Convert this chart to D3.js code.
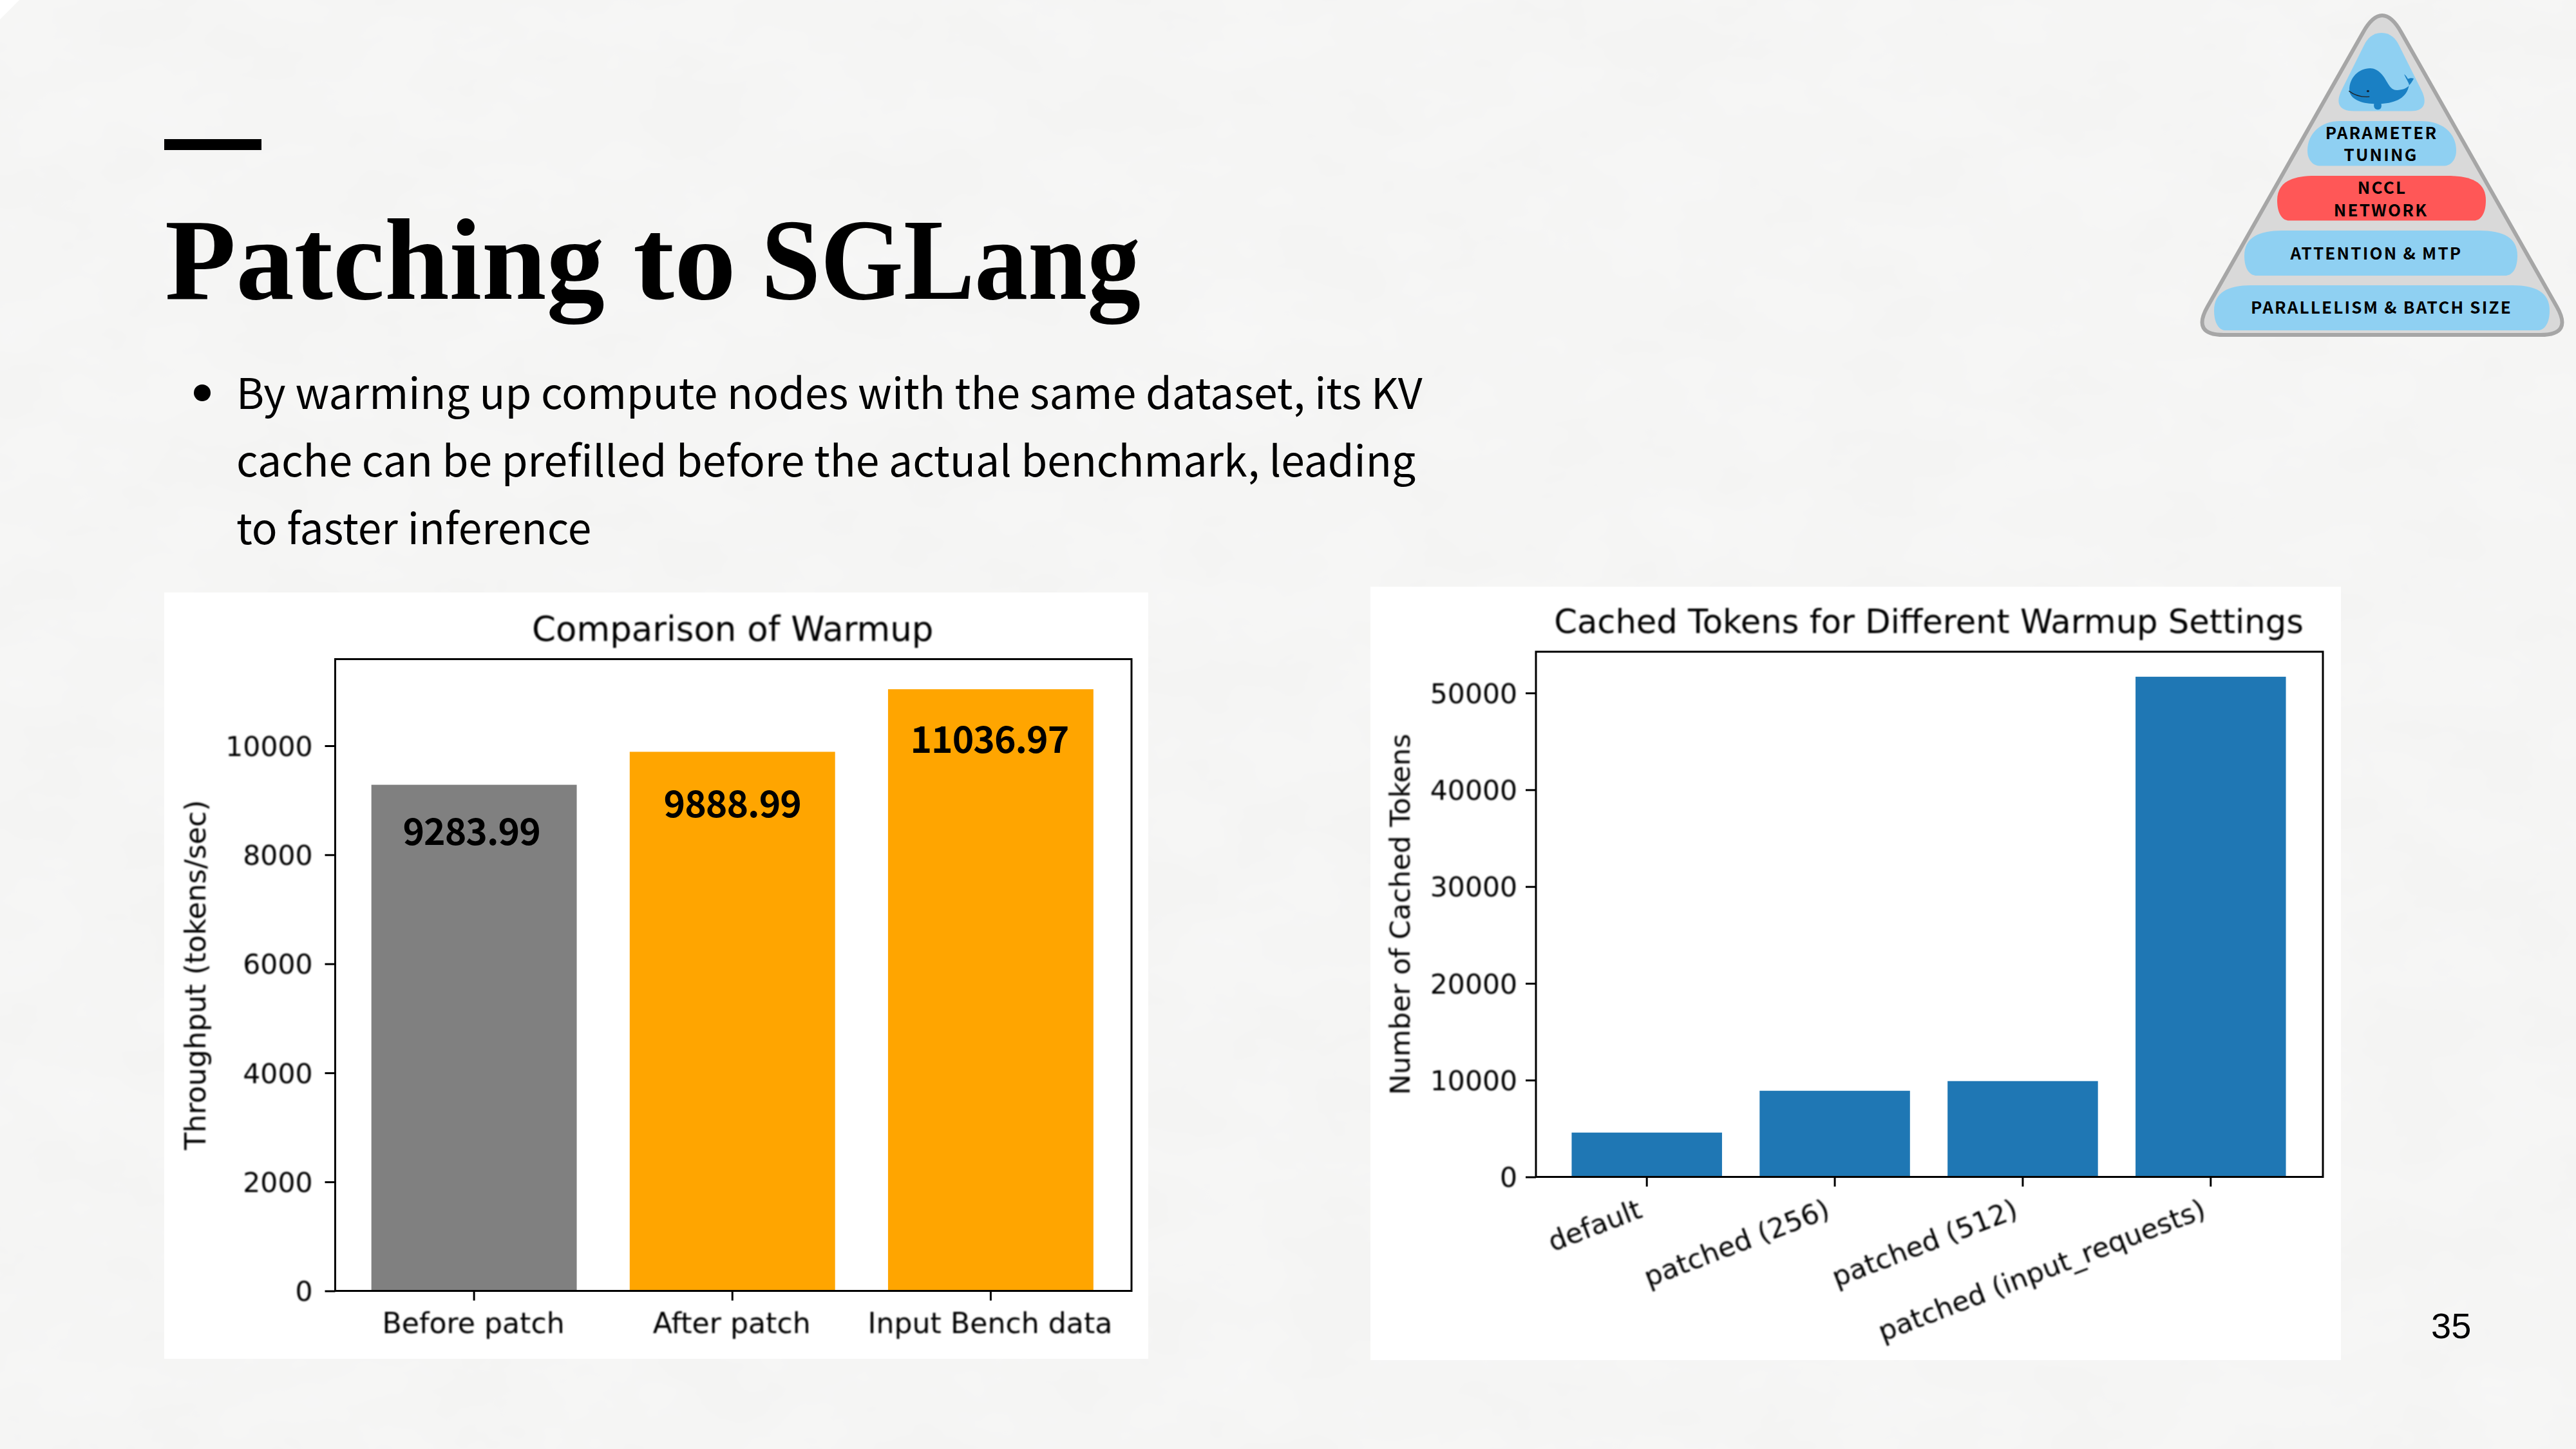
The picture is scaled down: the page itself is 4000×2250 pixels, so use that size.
<!DOCTYPE html>
<html>
<head>
<meta charset="utf-8">
<title>Patching to SGLang</title>
<script src="https://cdn.jsdelivr.net/npm/d3@7"></script>
<style>
  html, body { margin: 0; padding: 0; background: #f4f4f3; }
  svg { display: block; }
  .mpl text { font-family: "DejaVu Sans"; fill: #000; }
</style>
</head>
<body>
<svg id="slide" width="4000" height="2250" xmlns="http://www.w3.org/2000/svg"></svg>
<script>
// Throughput comparison
const warmupCategories = ["Before patch", "After patch", "Input Bench data"];
const warmupValues = [9283.99, 9888.99, 11036.97];
const warmupColors = ["#808080", "#ffa500", "#ffa500"];
const warmupTicks = [0, 2000, 4000, 6000, 8000, 10000];
const warmupLabelDrop = [93, 102, 99];
const warmupLabelShift = [-4, 0, -2];

// Cached tokens comparison
const cacheCategories = ["default", "patched (256)", "patched (512)", "patched (input_requests)"];
const cacheValues = [4580, 8900, 9900, 51680];
const cacheTicks = [0, 10000, 20000, 30000, 40000, 50000];

// Slide copy
const titleWords = [["Patching", 256, 683], ["to", 983, 160], ["SGLang", 1182, 589]];
const bodyLines = [
  "By warming up compute nodes with the same dataset, its KV",
  "cache can be prefilled before the actual benchmark, leading",
  "to faster inference"
];
const pyramidLabels = [
  ["PARAMETER", 3698, 216], ["TUNING", 3697, 250], ["NCCL", 3699, 300.5], ["NETWORK", 3697, 336],
  ["ATTENTION & MTP", 3690, 403], ["PARALLELISM & BATCH SIZE", 3698, 487]
];

const svg = d3.select("#slide");

// Paper-like backdrop
const defs = svg.append("defs");
const paper = defs.append("filter").attr("id", "paper")
  .attr("x", 0).attr("y", 0).attr("width", "100%").attr("height", "100%");
paper.append("feTurbulence").attr("type", "fractalNoise").attr("baseFrequency", "0.006 0.009")
  .attr("numOctaves", 4).attr("seed", 11);
paper.append("feColorMatrix").attr("type", "matrix")
  .attr("values", "0 0 0 0 1  0 0 0 0 1  0 0 0 0 1  0.4 0 0 0 -0.1");
defs.append("filter").attr("id", "soft").attr("x", "-5%").attr("y", "-5%").attr("width", "110%").attr("height", "110%")
  .append("feGaussianBlur").attr("stdDeviation", 0.8);

svg.append("rect").attr("width", 4000).attr("height", 2250).attr("fill", "#f4f4f3");
svg.append("rect").attr("width", 4000).attr("height", 2250).attr("filter", "url(#paper)");
svg.append("path").attr("d", "M0,0L30,0L0,30Z").attr("fill", "#fff");

// Heading block
svg.append("rect").attr("x", 255).attr("y", 216).attr("width", 151).attr("height", 17).attr("fill", "#000");
svg.selectAll("text.word").data(titleWords).join("text").attr("class", "word")
  .text(d => d[0])
  .attr("x", d => d[1]).attr("y", 464)
  .attr("textLength", d => d[2]).attr("lengthAdjust", "spacingAndGlyphs")
  .attr("font-family", "Liberation Serif").attr("font-weight", 700).attr("font-size", 180).attr("fill", "#000");

svg.append("circle").attr("cx", 314).attr("cy", 610).attr("r", 13).attr("fill", "#000");
svg.selectAll("text.body").data(bodyLines).join("text").attr("class", "body")
  .text(d => d)
  .attr("x", 367).attr("y", (d, i) => 635 + i * 105)
  .attr("font-family", "Noto Sans CJK SC").attr("font-size", 65.9).attr("fill", "#000");

svg.append("text").text("35").attr("x", 3775).attr("y", 2078)
  .attr("font-family", "Liberation Sans").attr("font-size", 56).attr("fill", "#000");

// Draws one matplotlib-styled bar panel
function barPanel(o) {
  const g = svg.append("g").attr("class", "mpl");
  g.append("rect").attr("x", o.panel[0]).attr("y", o.panel[1])
    .attr("width", o.panel[2] - o.panel[0]).attr("height", o.panel[3] - o.panel[1]).attr("fill", "#fff");

  const [l, t, r, b] = o.axes;
  const x = d3.scaleBand().domain(o.categories).range([l, o.bandEnd]).paddingInner(o.inner).paddingOuter(o.outer);
  const y = d3.scaleLinear().domain([0, d3.max(o.values) * 1.05]).range([b, t]);

  g.selectAll("rect.bar").data(o.values).join("rect").attr("class", "bar")
    .attr("x", (d, i) => x(o.categories[i]))
    .attr("y", d => y(d))
    .attr("width", x.bandwidth())
    .attr("height", d => b - y(d))
    .attr("fill", (d, i) => o.colors[i]);

  const style = (sel, size) => {
    sel.select(".domain").remove();
    sel.selectAll(".tick line").attr("stroke", "#000").attr("stroke-width", 3);
    sel.selectAll(".tick text").attr("font-size", size).attr("font-family", "DejaVu Sans").attr("fill", "#000")
      .attr("filter", "url(#soft)");
  };
  const yAxis = g.append("g").attr("transform", `translate(${l},0)`)
    .call(d3.axisLeft(y).tickValues(o.ticks).tickFormat(d3.format("d")).tickSize(16).tickPadding(o.yPad))
    .call(style, o.yTickSize);
  yAxis.selectAll(".tick text").attr("dy", "0.36em");

  const xAxis = g.append("g").attr("transform", `translate(0,${b})`)
    .call(d3.axisBottom(x).tickSize(15).tickPadding(14))
    .call(style, o.xTickSize);
  o.xText(xAxis.selectAll(".tick text"));

  g.append("rect").attr("x", l).attr("y", t).attr("width", r - l).attr("height", b - t)
    .attr("fill", "none").attr("stroke", "#000").attr("stroke-width", 3);

  g.append("text").text(o.title).attr("x", (l + r) / 2 - 1).attr("y", o.titleY)
    .attr("text-anchor", "middle").attr("font-size", o.titleSize).attr("filter", "url(#soft)");
  g.append("text").text(o.ylabel)
    .attr("transform", `translate(${o.ylabelX},${(t + b) / 2}) rotate(-90)`)
    .attr("text-anchor", "middle").attr("font-size", o.ylabelSize).attr("filter", "url(#soft)");
  return { g, x, y };
}

const left = barPanel({
  panel: [255, 920, 1783, 2110], axes: [520.5, 1023.5, 1757, 2004.5], bandEnd: 1754, inner: 0.205, outer: 0.14,
  categories: warmupCategories, values: warmupValues, colors: warmupColors, ticks: warmupTicks,
  yTickSize: 42.5, xTickSize: 44.2, titleSize: 53, ylabelSize: 44.4, yPad: 19, titleY: 995, ylabelX: 319,
  title: "Comparison of Warmup", ylabel: "Throughput (tokens/sec)",
  xText: s => s.attr("dy", null).attr("y", null).attr("transform", "translate(-1,65)")
});
left.g.selectAll("text.value").data(warmupValues).join("text").attr("class", "value")
  .text(d => d.toFixed(2))
  .attr("x", (d, i) => left.x(warmupCategories[i]) + left.x.bandwidth() / 2 + warmupLabelShift[i])
  .attr("y", (d, i) => left.y(d) + warmupLabelDrop[i])
  .attr("text-anchor", "middle")
  .style("font-family", "Noto Sans CJK SC").style("font-weight", 700).style("letter-spacing", "-1px")
  .attr("font-size", 57);

barPanel({
  panel: [2128, 911, 3635, 2112], axes: [2385, 1012, 3607, 1827.5], bandEnd: 3605, inner: 0.2, outer: 0.19,
  categories: cacheCategories, values: cacheValues, colors: cacheValues.map(() => "#1f77b4"), ticks: cacheTicks,
  yTickSize: 42.5, xTickSize: 43, titleSize: 51.2, ylabelSize: 43, yPad: 13, titleY: 983, ylabelX: 2189,
  title: "Cached Tokens for Different Warmup Settings", ylabel: "Number of Cached Tokens",
  xText: s => s.attr("text-anchor", "end").attr("dy", null).attr("y", null)
    .attr("transform", "translate(-5,62) rotate(-21)")
});

// Pyramid badge
const badge = svg.append("g");
const tri = [[3699, -2], [3995, 520], [3403, 520]];
function roundedPoly(pts, rads) {
  let d = "";
  pts.forEach((p, i) => {
    const a = pts[(i + pts.length - 1) % pts.length], c = pts[(i + 1) % pts.length];
    const u = (q) => { const dx = q[0] - p[0], dy = q[1] - p[1], n = Math.hypot(dx, dy); return [dx / n, dy / n]; };
    const ua = u(a), uc = u(c), r = rads[i];
    d += `${i ? "L" : "M"}${p[0] + ua[0] * r},${p[1] + ua[1] * r}Q${p[0]},${p[1]} ${p[0] + uc[0] * r},${p[1] + uc[1] * r}`;
  });
  return d + "Z";
}
badge.append("path").attr("d", roundedPoly(tri, [60, 50, 50]))
  .attr("fill", "#d9d9d9").attr("stroke", "#a6a6a6").attr("stroke-width", 6);

// Each tier: top flat span, widest span with its height, bottom flat span, top and bottom
const tiers = [
  { top: [3633, 3760], wide: [3583, 3814, 234], bot: [3601, 3796], y: [188, 257.5], fill: "#8fd0f2" },
  { top: [3595, 3799], wide: [3536, 3860, 311], bot: [3554, 3842], y: [273, 342.5], fill: "#ff5757" },
  { top: [3544, 3850], wide: [3485, 3909, 397], bot: [3504, 3890], y: [358, 428], fill: "#8fd0f2" },
  { top: [3495, 3902], wide: [3438, 3959, 482], bot: [3455, 3941], y: [443, 513], fill: "#8fd0f2" }
];
badge.append("path").attr("fill", "#8fd0f2")
  .attr("d", "M3698,51C3684,51 3676,60 3671,70L3636,140C3626,160 3632,172.5 3655,172.5L3744,172.5C3764,172.5 3770,160 3760,140L3725,70C3720,60 3712,51 3698,51Z");
badge.selectAll("path.tier").data(tiers).join("path").attr("class", "tier").attr("fill", d => d.fill)
  .attr("d", d => {
    const [t, b] = d.y, [wl, wr, wy] = d.wide;
    return `M${d.top[0]},${t}L${d.top[1]},${t}C${wr - 22},${t} ${wr},${wy - 28} ${wr},${wy}` +
      `C${wr},${b - 8} ${wr - 10},${b} ${d.bot[1]},${b}L${d.bot[0]},${b}` +
      `C${wl + 10},${b} ${wl},${b - 8} ${wl},${wy}C${wl},${wy - 28} ${wl + 22},${t} ${d.top[0]},${t}Z`;
  });

// Whale mascot
const whale = badge.append("g").attr("transform", "translate(3380,0) scale(0.3954,0.3444)");
whale.append("path").attr("fill", "#1a80c4")
  .attr("d", "M760,308C715,308 678,350 678,405C678,445 725,468 775,468C772,482 778,494 790,494C802,494 806,482 803,468C860,465 905,440 912,385C915,378 902,360 893,335C900,340 905,350 908,356C915,352 922,350 931,354C925,368 918,378 912,385C905,400 880,408 858,406C835,402 825,360 805,335C790,316 775,308 760,308Z");
whale.append("path").attr("fill", "none").attr("stroke", "#222").attr("stroke-width", 4)
  .attr("d", "M676,410Q710,440 757,436");
whale.append("circle").attr("cx", 751).attr("cy", 411).attr("r", 5).attr("fill", "#123");

badge.selectAll("text.tierlabel").data(pyramidLabels).join("text").attr("class", "tierlabel")
  .text(d => d[0]).attr("x", d => d[1]).attr("y", d => d[2]).attr("text-anchor", "middle")
  .style("font-family", "Noto Sans CJK SC").style("font-weight", 700)
  .style("letter-spacing", "2.2px").attr("font-size", 26).attr("fill", "#000");
</script>
</body>
</html>
